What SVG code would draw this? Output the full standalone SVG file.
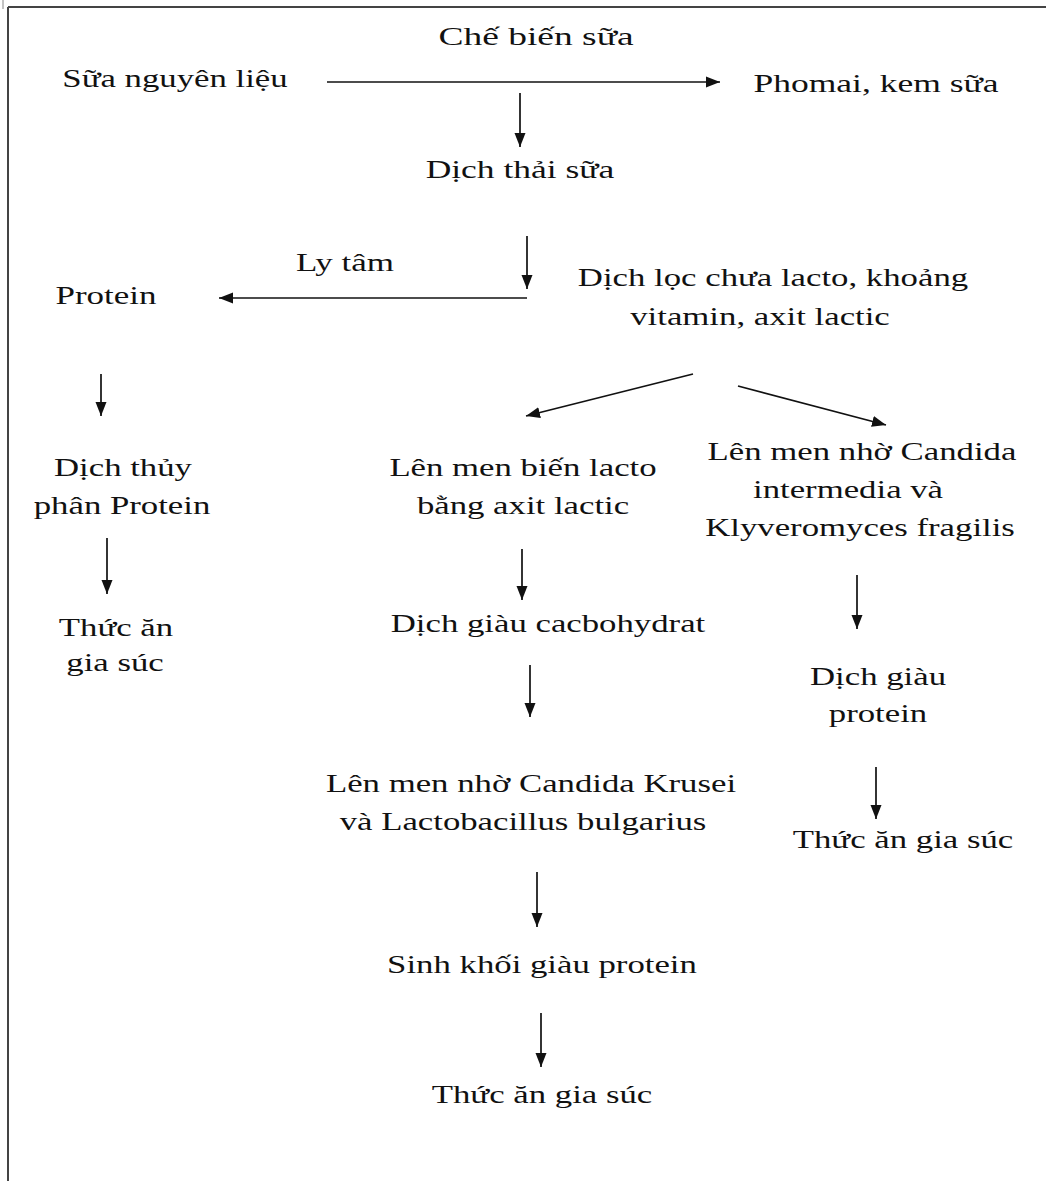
<svg xmlns="http://www.w3.org/2000/svg" width="1046" height="1181" viewBox="0 0 1046 1181">
<style>
.t{font-family:"Liberation Serif","Times New Roman",serif;font-size:25px;fill:#111;text-anchor:middle}
.c{stroke:#111;stroke-width:1.7;fill:none;marker-end:url(#ah)}
.b{stroke:#444;stroke-width:2;fill:none}
</style>
<defs>
<marker id="ah" markerUnits="userSpaceOnUse" markerWidth="16" markerHeight="14" refX="14" refY="7" orient="auto">
<path d="M0,1.5 L14,7 L0,12.5 Z" fill="#111"/>
</marker>
</defs>
<rect width="1046" height="1181" fill="#fff"/>
<g id="frame">
<line class="b" x1="8" y1="7" x2="1046" y2="7"/>
<line class="b" x1="8" y1="7" x2="8" y2="1181"/>
<line x1="3" y1="0" x2="3" y2="9" stroke="#888" stroke-width="1"/>
</g>
<g id="connectors">
<line class="c" x1="327" y1="82" x2="720" y2="82"/>
<line class="c" x1="520" y1="93" x2="520" y2="147"/>
<line class="c" x1="527" y1="236" x2="527" y2="289"/>
<line class="c" x1="527" y1="298" x2="219" y2="298"/>
<line class="c" x1="101" y1="374" x2="101" y2="416"/>
<line class="c" x1="693" y1="374" x2="526" y2="416"/>
<line class="c" x1="738" y1="386" x2="886" y2="425"/>
<line class="c" x1="107" y1="538" x2="107" y2="594"/>
<line class="c" x1="522" y1="549" x2="522" y2="600"/>
<line class="c" x1="857" y1="575" x2="857" y2="629"/>
<line class="c" x1="530" y1="665" x2="530" y2="717"/>
<line class="c" x1="876" y1="767" x2="876" y2="819"/>
<line class="c" x1="537" y1="872" x2="537" y2="927"/>
<line class="c" x1="541" y1="1013" x2="541" y2="1067"/>
</g>
<g id="che-bien"><text class="t" transform="translate(536,45) scale(1.5,1)">Chế biến sữa</text></g>
<g id="sua-nguyen-lieu"><text class="t" transform="translate(175,87) scale(1.39,1)">Sữa nguyên liệu</text></g>
<g id="phomai"><text class="t" transform="translate(876,92) scale(1.42,1)">Phomai, kem sữa</text></g>
<g id="dich-thai"><text class="t" transform="translate(520,178) scale(1.42,1)">Dịch thải sữa</text></g>
<g id="ly-tam"><text class="t" transform="translate(345,271) scale(1.4,1)">Ly tâm</text></g>
<g id="protein"><text class="t" transform="translate(106,304) scale(1.4,1)">Protein</text></g>
<g id="dich-loc">
<text class="t" transform="translate(773,286) scale(1.39,1)">Dịch lọc chưa lacto, khoảng</text>
<text class="t" transform="translate(760,325) scale(1.39,1)">vitamin, axit lactic</text>
</g>
<g id="thuy-phan">
<text class="t" transform="translate(123,476) scale(1.39,1)">Dịch thủy</text>
<text class="t" transform="translate(122,514) scale(1.39,1)">phân Protein</text>
</g>
<g id="len-men-lacto">
<text class="t" transform="translate(523,476) scale(1.39,1)">Lên men biến lacto</text>
<text class="t" transform="translate(523,514) scale(1.39,1)">bằng axit lactic</text>
</g>
<g id="len-men-candida">
<text class="t" transform="translate(862,460) scale(1.39,1)">Lên men nhờ Candida</text>
<text class="t" transform="translate(848,498) scale(1.39,1)">intermedia và</text>
<text class="t" transform="translate(860,536) scale(1.39,1)">Klyveromyces fragilis</text>
</g>
<g id="thuc-an-1">
<text class="t" transform="translate(116,636) scale(1.39,1)">Thức ăn</text>
<text class="t" transform="translate(115,671) scale(1.39,1)">gia súc</text>
</g>
<g id="dich-giau-cacbo"><text class="t" transform="translate(548,632) scale(1.39,1)">Dịch giàu cacbohydrat</text></g>
<g id="dich-giau-protein">
<text class="t" transform="translate(878,685) scale(1.39,1)">Dịch giàu</text>
<text class="t" transform="translate(878,722) scale(1.39,1)">protein</text>
</g>
<g id="len-men-krusei">
<text class="t" transform="translate(531,792) scale(1.39,1)">Lên men nhờ Candida Krusei</text>
<text class="t" transform="translate(523,830) scale(1.39,1)">và Lactobacillus bulgarius</text>
</g>
<g id="thuc-an-2"><text class="t" transform="translate(903,848) scale(1.39,1)">Thức ăn gia súc</text></g>
<g id="sinh-khoi"><text class="t" transform="translate(542,973) scale(1.39,1)">Sinh khối giàu protein</text></g>
<g id="thuc-an-3"><text class="t" transform="translate(542,1103) scale(1.39,1)">Thức ăn gia súc</text></g>
</svg>
